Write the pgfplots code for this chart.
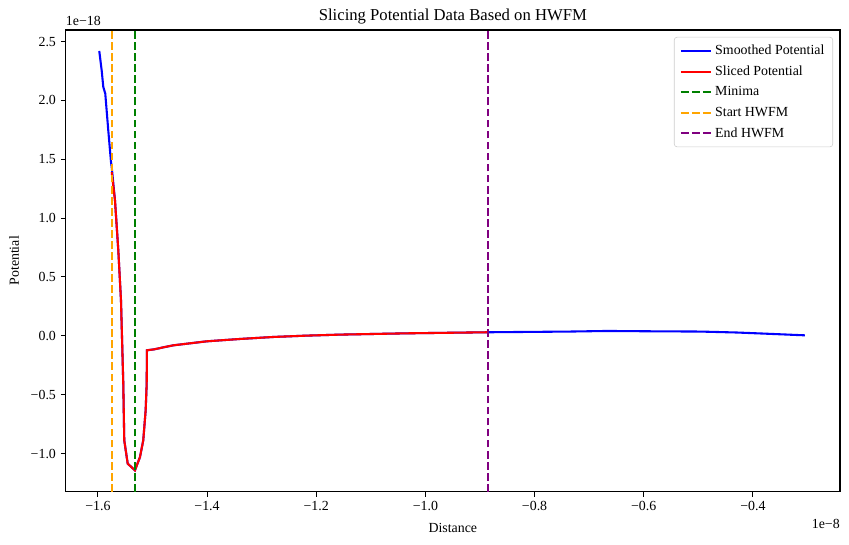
\documentclass[border=0pt]{standalone}
\usepackage{fontspec}
\setmainfont{Liberation Serif}
\usepackage{pgfplots}
\pgfplotsset{compat=1.18}
\definecolor{mplgreen}{rgb}{0,0.5,0}
\definecolor{mplorange}{rgb}{1,0.647,0}
\definecolor{mplpurple}{rgb}{0.5,0,0.5}
\begin{document}
\fontsize{10}{12}\selectfont
\begin{tikzpicture}
\useasboundingbox (-47.3pt,-38.4pt) rectangle (564.0pt,354.0pt);
\begin{axis}[
    scale only axis,
    width=557.5pt, height=332.4pt,
    xmin=-1.659, xmax=-0.2405,
    ymin=-1.324, ymax=2.598,
    axis line style={line width=0.8pt},
    tick pos=left, tick align=outside,
    major tick length=3.5pt,
    every tick/.style={black, line width=0.8pt},
    xtick={-1.6,-1.4,-1.2,-1.0,-0.8,-0.6,-0.4},
    xticklabels={−1.6,−1.4,−1.2,−1.0,−0.8,−0.6,−0.4},
    ytick={-1.0,-0.5,0,0.5,1.0,1.5,2.0,2.5},
    yticklabels={−1.0,−0.5,0.0,0.5,1.0,1.5,2.0,2.5},
    scaled ticks=false,
    tick label style={font=\fontsize{10}{12}\selectfont},
    xlabel={Distance}, ylabel={Potential},
    label style={font=\fontsize{10}{12}\selectfont},
    xlabel style={yshift=-2.3pt},
    ylabel style={yshift=1.6pt},
    title={Slicing Potential Data Based on HWFM},
    title style={font=\fontsize{12}{14}\selectfont, yshift=-5.6pt},
    legend cell align=left,
    legend style={at={(1,1)}, anchor=north east, xshift=-5pt, yshift=-5pt,
        draw=black!20, rounded corners=2pt, fill=white, fill opacity=0.8, text opacity=1,
        font=\fontsize{10}{12}\selectfont, row sep=2.6pt, inner xsep=4pt, inner ysep=3.5pt},
    legend image code/.code={\draw[#1] (0pt,0pt) -- (22pt,0pt);},
    clip mode=individual,
]
\addplot[blue, line width=1.5pt] coordinates {
(-1.5975,2.420) (-1.5931,2.256) (-1.5901,2.114) (-1.5865,2.058) (-1.5810,1.746)
(-1.5760,1.477) (-1.5747,1.434) (-1.5687,1.151) (-1.5626,0.726) (-1.5577,0.302)
(-1.5535,-0.404) (-1.5517,-0.888) (-1.5454,-1.086) (-1.5321,-1.143) (-1.5229,-1.030)
(-1.5169,-0.888) (-1.5125,-0.633) (-1.5106,-0.406) (-1.5101,-0.123) (-1.4967,-0.115)
(-1.4800,-0.098) (-1.4619,-0.081) (-1.4007,-0.047) (-1.3400,-0.027) (-1.2787,-0.010)
(-1.2200,0.001) (-1.1565,0.010) (-1.0344,0.021) (-0.8860,0.030) (-0.7352,0.036)
(-0.6674,0.041) (-0.5800,0.038) (-0.4971,0.036) (-0.4300,0.028) (-0.3817,0.019)
(-0.3048,0.004)
};
\addlegendentry{Smoothed Potential}
\addplot[red, line width=1.5pt] coordinates {
(-1.5747,1.390) (-1.5687,1.151) (-1.5626,0.726) (-1.5577,0.302)
(-1.5535,-0.404) (-1.5517,-0.888) (-1.5454,-1.086) (-1.5321,-1.143) (-1.5229,-1.030)
(-1.5169,-0.888) (-1.5125,-0.633) (-1.5106,-0.406) (-1.5101,-0.123) (-1.4967,-0.115)
(-1.4800,-0.098) (-1.4619,-0.081) (-1.4007,-0.047) (-1.3400,-0.027) (-1.2787,-0.010)
(-1.2200,0.001) (-1.1565,0.010) (-1.0344,0.021) (-0.8860,0.030)
};
\addlegendentry{Sliced Potential}
\addplot[mplgreen, line width=1.5pt, dash pattern=on 5.55pt off 2.4pt] coordinates {(-1.5321,-1.324) (-1.5321,2.598)};
\addlegendentry{Minima}
\addplot[mplorange, line width=1.5pt, dash pattern=on 5.55pt off 2.4pt] coordinates {(-1.5747,-1.324) (-1.5747,2.598)};
\addlegendentry{Start HWFM}
\addplot[mplpurple, line width=1.5pt, dash pattern=on 5.55pt off 2.4pt] coordinates {(-0.8854,-1.324) (-0.8854,2.598)};
\addlegendentry{End HWFM}
\node[anchor=south west, inner sep=0pt, yshift=3pt] at (rel axis cs:0,1) {1e−18};
\node[anchor=north east, inner sep=0pt, yshift=-20pt] at (rel axis cs:1,0) {1e−8};
\end{axis}
\end{tikzpicture}
\end{document}
